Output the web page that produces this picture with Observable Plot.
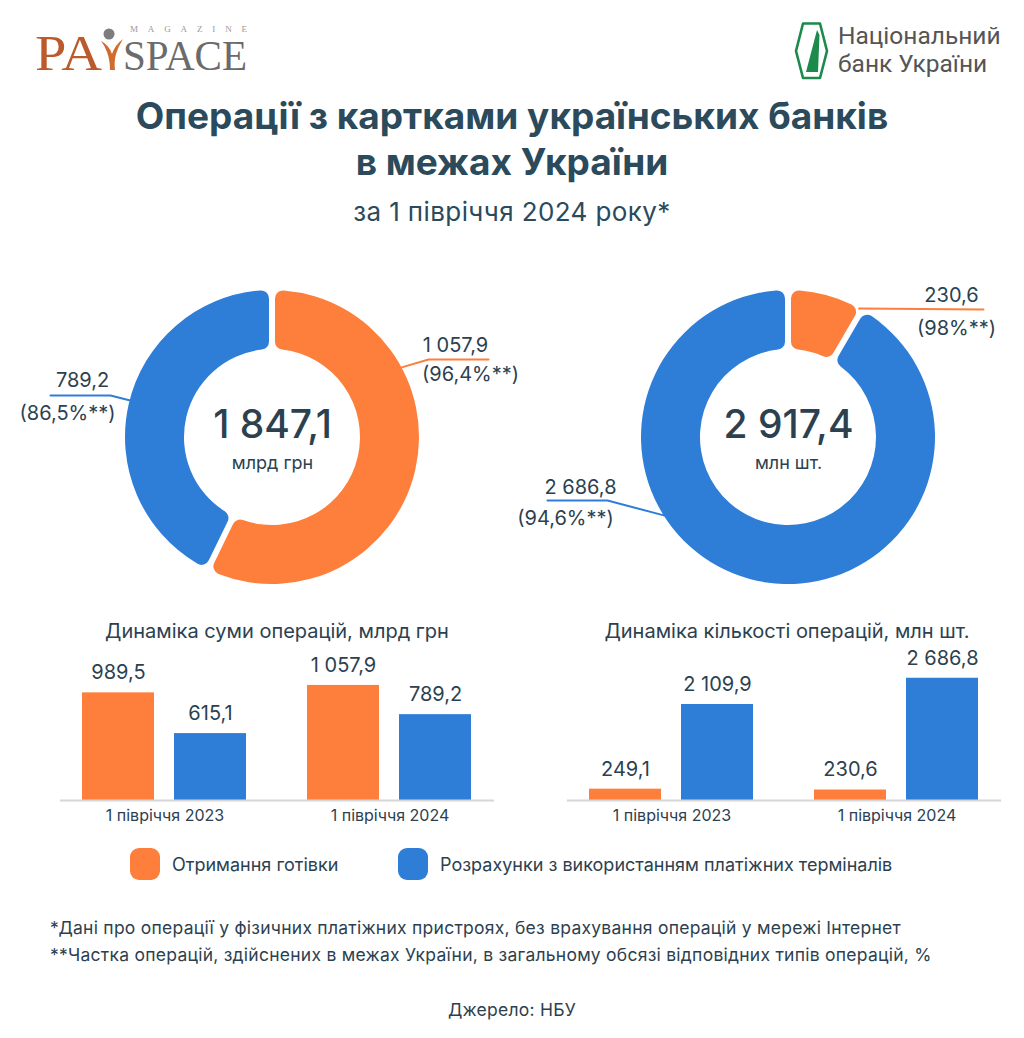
<!DOCTYPE html>
<html>
<head>
<meta charset="utf-8">
<script src="https://cdn.jsdelivr.net/npm/d3@7"></script>
<script src="https://cdn.jsdelivr.net/npm/@observablehq/plot@0.6"></script>
<style>
html, body { margin: 0; padding: 0; background: #fff; }
#page { position: relative; width: 1024px; height: 1038px; overflow: hidden; background: #fff;
  font-family: Inter, "Noto Sans", sans-serif; color: #2c4150; }
#page svg { max-width: none !important; }
.abs { position: absolute; }
.title { left: 0; width: 1024px; top: 93px; text-align: center; font-size: 37px; font-weight: 700;
  line-height: 46px; color: #2b4a5b; }
.subtitle { left: 0; width: 1024px; top: 197px; text-align: center; font-size: 26px; letter-spacing: 0.4px; line-height: 30px; color: #2b4a5b; }
.ctitle { font-size: 20px; text-align: center; line-height: 24px; color: #2c4150; }
.legend { top: 848px; display: flex; align-items: center; font-size: 18px; }
.sw { width: 30px; height: 32px; border-radius: 9px; margin-right: 12px; }
.note { left: 50px; font-size: 17.5px; letter-spacing: 0.25px; line-height: 22px; white-space: nowrap; }
</style>
</head>
<body>
<div id="page">
  <!-- PaySpace logo -->
  <svg class="abs" style="left:30px;top:14px" width="250" height="68">
    <text x="100" y="18" font-family="Liberation Serif, serif" font-size="9" fill="#9a9a9a" textLength="117" lengthAdjust="spacing">MAGAZINE</text>
    <text x="5" y="56" font-family="Liberation Serif, serif" font-size="50" fill="#bb5a2c" textLength="67" lengthAdjust="spacingAndGlyphs">PA</text>
    <path d="M71,27 Q79,31 82,40 Q85,31 93,25 Q88,33 86,40 Q84,47 85,56 L80,56 Q80,46 77,38 Q75,32 71,27 Z" fill="#d26a2e"/>
    <circle cx="79" cy="20" r="5.5" fill="#7d7d7d"/>
    <text x="93" y="56" font-family="Liberation Serif, serif" font-size="42" fill="#6b6b6b" textLength="124" lengthAdjust="spacingAndGlyphs">SPACE</text>
  </svg>
  <!-- NBU logo -->
  <svg class="abs" style="left:794px;top:22px" width="36" height="58">
    <path d="M9,1.5 L26,1.5 L33,29 L26,56 L9,56 L2,29 Z" fill="none" stroke="#1b8a4b" stroke-width="2.6" stroke-linejoin="round"/>
    <path d="M12,50 L23,8 L25.5,13 L24,50 Z" fill="#1b8a4b"/>
  </svg>
  <div class="abs" style="left:838px;top:22px;font-family:Roboto, sans-serif;font-size:24.5px;line-height:28px;color:#555;">Національний<br>банк України</div>

  <div class="abs title">Операції з картками українських банків<br>в межах України</div>
  <div class="abs subtitle">за 1 півріччя 2024 року*</div>

  <div id="donut1" class="abs" style="left:16px;top:272px;width:512px;height:330px"></div>
  <div id="donut2" class="abs" style="left:532px;top:272px;width:512px;height:330px"></div>

  <div id="t1" class="abs ctitle" style="left:60px;top:619px;width:434px"></div>
  <div id="t2" class="abs ctitle" style="left:570px;top:619px;width:434px"></div>
  <div id="bars1" class="abs" style="left:60px;top:640px;width:434px"></div>
  <div id="bars2" class="abs" style="left:567px;top:640px;width:434px"></div>

  <div id="legend"></div>

  <div class="abs note" style="top:917px" id="n1"></div>
  <div class="abs note" style="top:944px" id="n2"></div>
  <div class="abs" id="src" style="left:0;width:1024px;top:999px;text-align:center;font-size:17.5px;letter-spacing:0.25px;line-height:22px"></div>
</div>
<script>
// ---------- DATA ----------
const types = ["Отримання готівки", "Розрахунки з використанням платіжних терміналів"];
const colors = ["#fd7f3b", "#2e7ed8"];
const periods = ["1 півріччя 2023", "1 півріччя 2024"];
const sumCash = [989.5, 1057.9];      // млрд грн
const sumTerm = [615.1, 789.2];
const cntCash = [249.1, 230.6];       // млн шт.
const cntTerm = [2109.9, 2686.8];
const sumShare = [96.4, 86.5];        // % of operations within Ukraine, 2024 (cash, terminals)
const cntShare = [98, 94.6];
const sumUnit = "млрд грн";
const cntUnit = "млн шт.";
const chartTitles = ["Динаміка суми операцій, млрд грн", "Динаміка кількості операцій, млн шт."];
const notes = [
  "*Дані про операції у фізичних платіжних пристроях, без врахування операцій у мережі Інтернет",
  "**Частка операцій, здійснених в межах України, в загальному обсязі відповідних типів операцій, %"
];
const source = "Джерело: НБУ";

// ---------- HELPERS ----------
const textColor = "#2c4150";
const locale = d3.formatLocale({decimal: ",", thousands: " ", grouping: [3], currency: ["", ""]});
const fmt = locale.format(",.1f");
const fmtPct = v => (Number.isInteger(v) ? String(v) : v.toFixed(1).replace(".", ",")) + "%**";
const color = d3.scaleOrdinal(types, colors);

// ---------- DONUTS ----------
// layout: leader-line start angle (deg, clockwise from top), further points, label offsets (relative to centre)
const donutLayout = [
  {
    labels: [
      {angle: 61.5, pts: [[156, -78], [216, -78]], val: [183, -92], pct: [198, -63]},
      {angle: 284.6, pts: [[-162, -42], [-222, -42]], val: [-190, -57], pct: [-205, -24]}
    ]
  },
  {
    labels: [
      {angle: 28.7, pts: [[195, -128]], val: [163, -142], pct: [168, -109]},
      {angle: 238, pts: [[-181, 63], [-241, 63]], val: [-208, 50], pct: [-223, 81]}
    ]
  }
];
const R = 147, r = 88;

function donut(values, shares, unit, layout) {
  const slices = types.map((t, i) => ({type: t, value: values[i], share: shares[i]}));
  const total = d3.sum(values);
  const arcs = d3.pie().sort(null).value(d => d.value).padAngle(0.035)(slices);
  const arcMark = (index, scales) => {
    const cx = scales.x(0), cy = scales.y(0);
    const k = scales.x(1) - scales.x(0);
    const arc = d3.arc().innerRadius(r * k).outerRadius(R * k).cornerRadius(8);
    const g = d3.create("svg:g").attr("transform", `translate(${cx},${cy})`);
    g.selectAll("path").data(arcs).join("path").attr("d", arc).attr("fill", d => color(d.data.type));
    return g.node();
  };
  const lines = [], labels = [];
  slices.forEach((s, i) => {
    const L = layout.labels[i];
    const a = L.angle * Math.PI / 180;
    const start = [R * Math.sin(a), -R * Math.cos(a)];
    [start, ...L.pts].forEach(p => lines.push({type: s.type, x: p[0], y: p[1]}));
    labels.push({x: L.val[0], y: L.val[1], text: fmt(s.value)});
    labels.push({x: L.pct[0], y: L.pct[1], text: "(" + fmtPct(s.share) + ")"});
  });
  return Plot.plot({
    width: 512, height: 330,
    marginTop: 0, marginBottom: 0, marginLeft: 0, marginRight: 0,
    style: {fontFamily: "Inter, sans-serif", background: "transparent", overflow: "visible", maxWidth: "none"},
    x: {domain: [-256, 256], axis: null},
    y: {domain: [-165, 165], range: [0, 330], axis: null},
    color: {domain: types, range: colors},
    marks: [
      arcMark,
      Plot.line(lines, {x: "x", y: "y", z: "type", stroke: "type", strokeWidth: 2}),
      Plot.text(labels, {x: "x", y: "y", text: "text", fontSize: 20, fill: textColor}),
      Plot.text([fmt(total)], {x: 0, y: -12, text: d => d, fontSize: 39, fontWeight: 500, fill: textColor}),
      Plot.text([unit], {x: 0, y: 26, text: d => d, fontSize: 18, fill: textColor})
    ]
  });
}

const last = periods.length - 1;
document.getElementById("donut1").append(donut([sumCash[last], sumTerm[last]], sumShare, sumUnit, donutLayout[0]));
document.getElementById("donut2").append(donut([cntCash[last], cntTerm[last]], cntShare, cntUnit, donutLayout[1]));

// ---------- BARS ----------
function bars(cash, term, yMax) {
  const rows = periods.flatMap((p, i) => [
    {period: p, type: types[0], value: cash[i]},
    {period: p, type: types[1], value: term[i]}
  ]);
  return Plot.plot({
    width: 434, height: 190,
    marginTop: 20, marginBottom: 30, marginLeft: 0, marginRight: 0,
    style: {fontFamily: "Inter, sans-serif", fontSize: "16px", background: "transparent", overflow: "hidden", color: textColor, maxWidth: "none"},
    fx: {domain: periods, paddingInner: 0.265, paddingOuter: 0.093, label: null, axis: "bottom", tickSize: 0, tickPadding: 9},
    x: {domain: types, axis: null, paddingInner: 0.215, paddingOuter: 0},
    y: {domain: [0, yMax], axis: null},
    color: {domain: types, range: colors},
    marks: [
      Plot.barY(rows, {fx: "period", x: "type", y: "value", fill: "type"}),
      Plot.text(rows, {fx: "period", x: "type", y: "value", text: d => fmt(d.value), dy: -20, fontSize: 20, fill: textColor}),
      Plot.ruleY([0], {stroke: "#d6d6d6", strokeWidth: 2, insetLeft: -30, insetRight: -30})
    ]
  });
}
document.getElementById("bars1").append(bars(sumCash, sumTerm, 1287));
document.getElementById("bars2").append(bars(cntCash, cntTerm, 3077));
document.getElementById("t1").textContent = chartTitles[0];
document.getElementById("t2").textContent = chartTitles[1];

// ---------- LEGEND ----------
const legendX = [130, 398];
const lg = document.getElementById("legend");
types.forEach((t, i) => {
  const d = document.createElement("div");
  d.className = "abs legend";
  d.style.left = legendX[i] + "px";
  d.innerHTML = `<div class="sw" style="background:${colors[i]}"></div><span>${t}</span>`;
  lg.append(d);
});

document.getElementById("n1").textContent = notes[0];
document.getElementById("n2").textContent = notes[1];
document.getElementById("src").textContent = source;
</script>
</body>
</html>
